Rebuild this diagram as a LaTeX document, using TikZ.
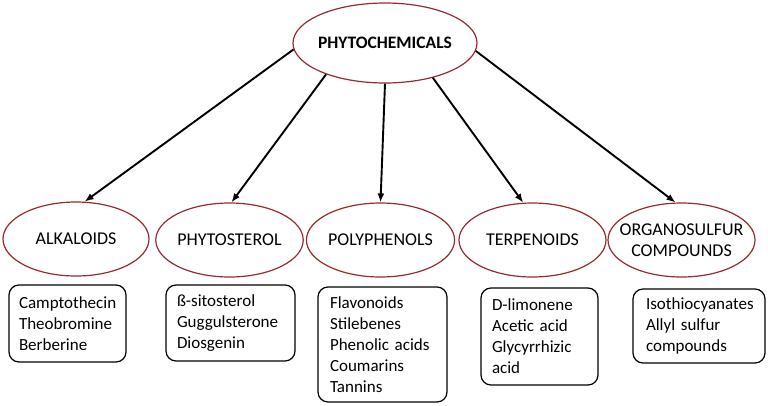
\documentclass[tikz,border=0pt]{standalone}
\usepackage{fontspec}
\setmainfont{Carlito}
\usetikzlibrary{shapes.geometric,arrows.meta}
\definecolor{ellred}{RGB}{150,42,46}
\tikzset{
  ell/.style={ellipse, draw=ellred, line width=1.2pt, inner sep=0pt, minimum height=74pt, align=center,
    font=\fontsize{18}{21}\selectfont},
  itembox/.style={draw=black, rounded corners=10pt, line width=1.2pt, align=left, inner ysep=0pt,
    font=\fontsize{17}{21}\selectfont},
  arr/.style={line width=1.9pt, -{Latex[length=9pt,width=7pt]}}
}
\begin{document}
\begin{tikzpicture}[x=1pt,y=-1pt]
\useasboundingbox (0,0) rectangle (768,405);
\node[ell, minimum width=184pt, minimum height=80pt, inner xsep=-4pt, font=\fontsize{17.5}{21}\selectfont\bfseries] (top) at (385,43) {PHYTOCHEMICALS};

\node[ell, minimum width=146pt] (alk) at (76,239) {ALKALOIDS};
\node[ell, minimum width=145pt] (phy) at (229.5,240) {PHYTOSTEROL};
\node[ell, minimum width=147pt] (pol) at (380.5,240) {POLYPHENOLS};
\node[ell, minimum width=147pt] (ter) at (532.5,240) {TERPENOIDS};
\node[ell, minimum width=147pt, inner xsep=-14pt] (org) at (681.5,240) {ORGANOSULFUR\\COMPOUNDS};

\node[itembox, minimum height=77pt, text width=97pt, inner xsep=10pt] (balk) at (67.5,323.5) {Camptothecin\\Theobromine\\Berberine};
\node[itembox, minimum height=76pt, text width=107pt, inner xsep=11pt] (bphy) at (230.5,323) {ß-sitosterol\\Guggulsterone\\Diosgenin};
\node[itembox, minimum height=115pt, text width=105pt, inner xsep=12pt] (bpol) at (382.5,344.5) {Flavonoids\\Stilebenes\\Phenolic acids\\Coumarins\\Tannins};
\node[itembox, minimum height=97pt, text width=95pt, inner xsep=11pt] (bter) at (539.5,336.5) {D-limonene\\Acetic acid\\Glycyrrhizic\\acid};
\node[itembox, minimum height=74pt, text width=110pt, inner xsep=11pt] (borg) at (699,326) {\hspace*{2pt}Isothiocyanates\\\hspace*{2pt}Allyl sulfur\\\hspace*{2pt}compounds};

\draw[arr] (top.184) -- (alk.77);
\draw[arr] (top.208) -- (phy.87);
\draw[arr] (top.south) -- (pol.north);
\draw[arr] (top.324) -- (ter.104);
\draw[arr] (top.355) -- (org.99);
\end{tikzpicture}
\end{document}
